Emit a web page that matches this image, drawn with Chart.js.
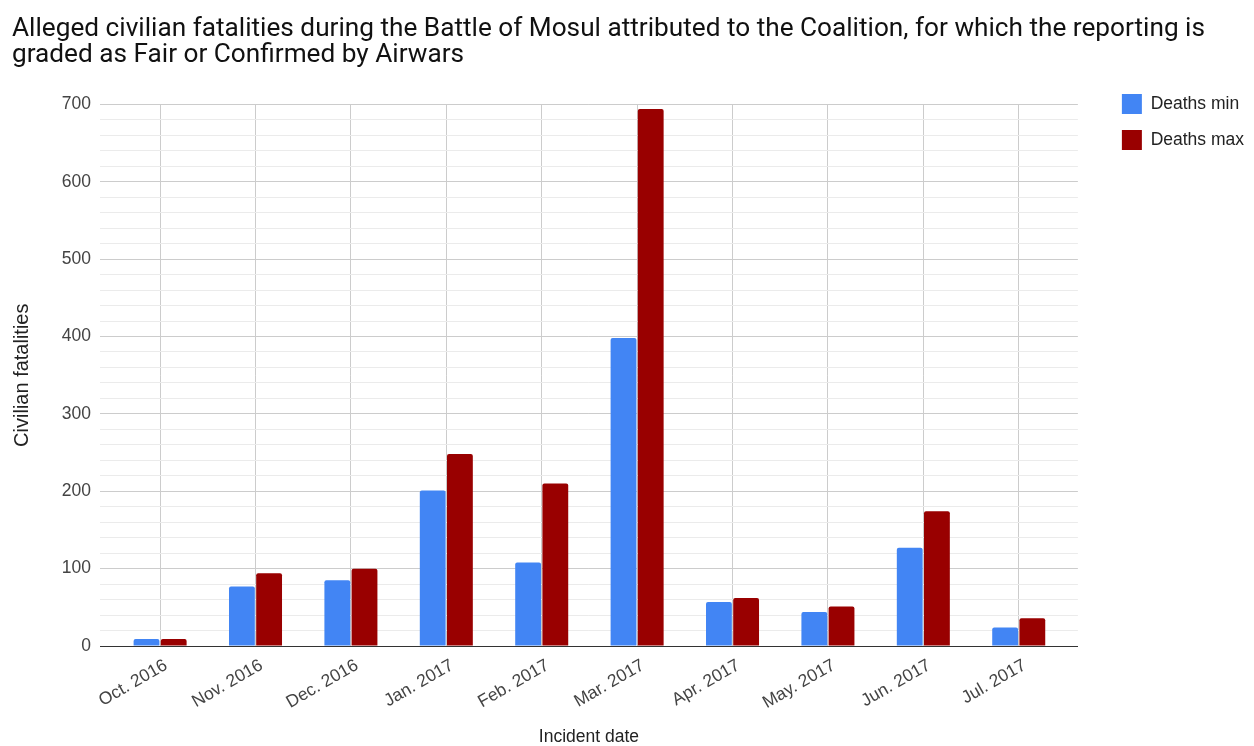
<!DOCTYPE html>
<html>
<head>
<meta charset="utf-8">
<title>Alleged civilian fatalities - Battle of Mosul</title>
<script src="https://cdn.jsdelivr.net/npm/chart.js@4"></script>
<style>
    html, body { margin: 0; padding: 0; background: #fff; }
    #wrap { width: 1254px; height: 746px; }
</style>
</head>
<body>
<div id="wrap"><canvas id="mosulChart" width="1254" height="746"></canvas></div>
<script>
// --- Data ---
const categories = ['Oct. 2016', 'Nov. 2016', 'Dec. 2016', 'Jan. 2017', 'Feb. 2017',
                    'Mar. 2017', 'Apr. 2017', 'May. 2017', 'Jun. 2017', 'Jul. 2017'];
const deathsMin = [9, 77, 85, 201, 108, 398, 57, 44, 127, 24];
const deathsMax = [9, 94, 100, 248, 210, 694, 62, 51, 174, 36];
const yMajorTicks = [0, 100, 200, 300, 400, 500, 600, 700];

const titleLines = [
    'Alleged civilian fatalities during the Battle of Mosul attributed to the Coalition, for which the reporting is',
    'graded as Fair or Confirmed by Airwars'
];

document.addEventListener('DOMContentLoaded', () => {

    Chart.defaults.font.family = "'Liberation Sans', Arial, sans-serif";
    Chart.defaults.font.size = 17.5;
    Chart.defaults.color = '#444';

    const toPoints = (values) => values.map((v, i) => ({ x: i, y: v }));

    const ctx = document.getElementById('mosulChart').getContext('2d');
    new Chart(ctx, {
        type: 'bar',
        data: {
            datasets: [
                {
                    label: 'Deaths min',
                    data: toPoints(deathsMin),
                    backgroundColor: '#4285F4',
                    borderRadius: 2,
                    categoryPercentage: 0.57,
                    barPercentage: 0.95
                },
                {
                    label: 'Deaths max',
                    data: toPoints(deathsMax),
                    backgroundColor: '#990000',
                    borderRadius: 2,
                    categoryPercentage: 0.57,
                    barPercentage: 0.95
                }
            ]
        },
        options: {
            responsive: false,
            animation: false,
            layout: { padding: { left: 12, right: 0, top: 0, bottom: 0 } },
            plugins: {
                title: {
                    display: true,
                    text: titleLines,
                    align: 'start',
                    color: '#111',
                    font: { family: 'Roboto', size: 26.2, weight: 'normal', lineHeight: 1 },
                    padding: { top: 16, bottom: 36 }
                },
                legend: {
                    position: 'right',
                    align: 'start',
                    // empty title only pushes the items down
                    title: { display: true, text: '', font: { size: 1, lineHeight: 1 }, padding: { top: 77, bottom: 0 } },
                    labels: {
                        boxWidth: 20,
                        boxHeight: 20,
                        padding: 16,
                        color: '#222'
                    }
                },
                tooltip: { enabled: false }
            },
            scales: {
                x: {
                    type: 'linear',
                    min: -0.63,
                    max: 9.62,
                    offset: false,
                    afterBuildTicks: (scale) => {
                        scale.ticks = categories.map((c, i) => ({ value: i }));
                    },
                    afterFit: (scale) => { scale.height = 100; },
                    ticks: {
                        autoSkip: false,
                        minRotation: 30,
                        maxRotation: 30,
                        padding: 9,
                        labelOffset: 6,
                        callback: (value) => categories[value]
                    },
                    grid: { color: '#cccccc', drawTicks: false, offset: false },
                    border: { color: '#333', width: 1 },
                    title: {
                        display: true,
                        text: 'Incident date',
                        color: '#222',
                        font: { lineHeight: 1 },
                        padding: { top: 0, bottom: 0 }
                    }
                },
                y: {
                    min: 0,
                    max: 700,
                    afterFit: (scale) => { scale.width = 88; },
                    ticks: {
                        stepSize: 20,
                        autoSkip: false,
                        padding: 9,
                        callback: (value) => yMajorTicks.includes(value) ? value : ''
                    },
                    grid: {
                        drawTicks: false,
                        color: (c) => {
                            const v = c.tick.value;
                            if (v === 0) return '#333';
                            return yMajorTicks.includes(v) ? '#cccccc' : '#ebebeb';
                        }
                    },
                    border: { display: false },
                    title: {
                        display: true,
                        text: 'Civilian fatalities',
                        color: '#222',
                        font: { size: 20, lineHeight: 1 },
                        padding: { top: 0, bottom: 0 }
                    }
                },
                // spacer between plot and legend
                gap: {
                    position: 'right',
                    afterFit: (scale) => { scale.width = 28; },
                    ticks: { display: false },
                    grid: { display: false, drawTicks: false },
                    border: { display: false }
                }
            }
        }
    });
});
</script>
</body>
</html>
